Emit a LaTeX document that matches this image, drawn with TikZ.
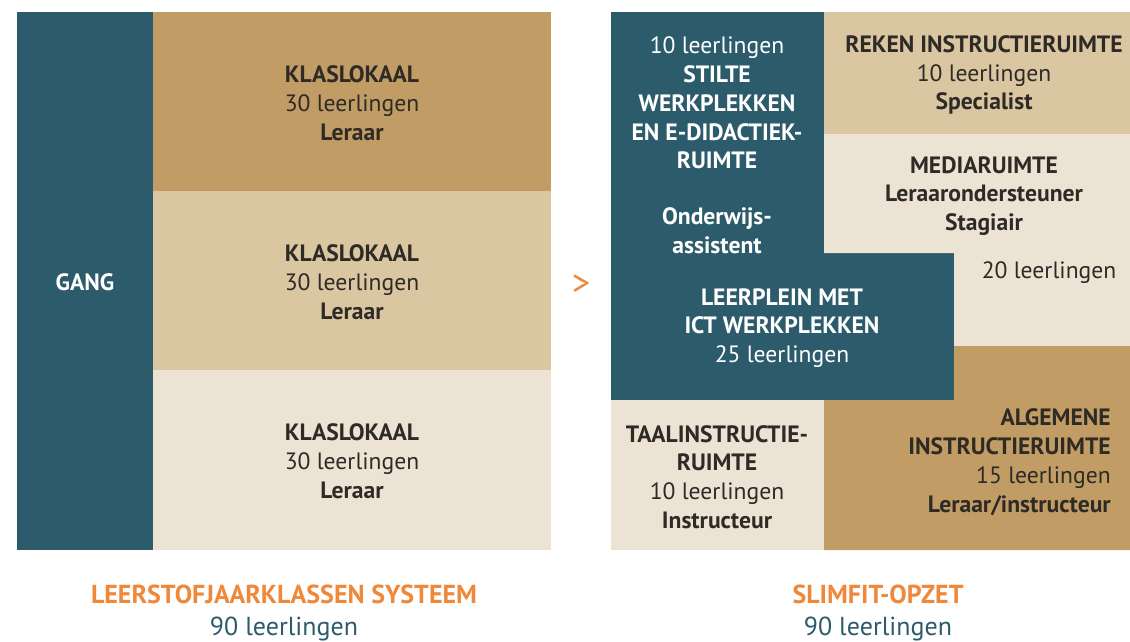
\documentclass[tikz,border=0pt]{standalone}
\usepackage{fontspec}
\setmainfont{PT Sans}
\usepackage{xcolor}
\definecolor{gangteal}{HTML}{2C5B6B}
\definecolor{tandark}{HTML}{C19D65}
\definecolor{tanmid}{HTML}{DBC6A2}
\definecolor{tanlight}{HTML}{EDE3D4}
\definecolor{accent}{HTML}{F0883A}
\definecolor{ink}{HTML}{2E2A26}
\tikzset{
	room/.style = {align=center, text=ink, inner sep=0pt,
		font=\fontsize{16.8}{20.5}\selectfont},
	roomlight/.style = {room, text=white},
	caption/.style = {align=center, inner sep=0pt,
		font=\fontsize{18.5}{23.4}\selectfont}
}

\begin{document}
\begin{tikzpicture}[x=0.025cm, y=-0.025cm]
		\useasboundingbox [fill=white] (0, 0) rectangle (1130, 641);
		% leerstofjaarklassen
		\fill [gangteal] (17, 12) rectangle (153, 550);
		\fill [tandark] (153, 12) rectangle (551, 191);
		\fill [tanmid] (153, 191) rectangle (551, 370);
		\fill [tanlight] (153, 370) rectangle (551, 550);
		\node [roomlight] (gang) at (85, 282) {\textbf{GANG}};
		\node [room] (klas1) at (352, 103) {\textbf{KLASLOKAAL}\\30 leerlingen\\\textbf{Leraar}};
		\node [room] (klas2) at (352, 282) {\textbf{KLASLOKAAL}\\30 leerlingen\\\textbf{Leraar}};
		\node [room] (klas3) at (352, 461) {\textbf{KLASLOKAAL}\\30 leerlingen\\\textbf{Leraar}};
		% slimfit
		\fill [gangteal] (611, 12) -- (824, 12) -- (824, 253) -- (954, 253) --
		(954, 400) -- (611, 400) -- cycle;
		\fill [tanmid] (824, 12) rectangle (1130, 134);
		\fill [tanlight] (824, 134) -- (1130, 134) -- (1130, 346) -- (954, 346) --
		(954, 253) -- (824, 253) -- cycle;
		\fill [tandark] (954, 346) -- (1130, 346) -- (1130, 550) -- (824, 550) --
		(824, 400) -- (954, 400) -- cycle;
		\fill [tanlight] (611, 400) rectangle (824, 550);
		\node [roomlight] (stilte) at (717, 103) {10 leerlingen\\\textbf{STILTE}\\\textbf{WERKPLEKKEN}\\\textbf{EN E-DIDACTIEK-}\\\textbf{RUIMTE}};
		\node [roomlight] (assistent) at (717, 231) {\textbf{Onderwijs-}\\\textbf{assistent}};
		\node [room] (reken) at (984, 75) {\textbf{REKEN INSTRUCTIERUIMTE}\\10 leerlingen\\\textbf{Specialist}};
		\node [room] (media) at (984, 196) {\textbf{MEDIARUIMTE}\\\textbf{Leraarondersteuner}\\\textbf{Stagiair}};
		\node [room] (media20) at (1049, 273) {20 leerlingen};
		\node [roomlight] (leerplein) at (782, 328) {\textbf{LEERPLEIN MET}\\\textbf{ICT WERKPLEKKEN}\\25 leerlingen};
		\node [room] (taal) at (717, 477) {\textbf{TAALINSTRUCTIE-}\\\textbf{RUIMTE}\\10 leerlingen\\\textbf{Instructeur}};
		\node [room, align=right, anchor=east] (algemeen) at (1111, 462) {\textbf{ALGEMENE}\\\textbf{INSTRUCTIERUIMTE}\\15 leerlingen\\\textbf{Leraar/instructeur}};
		\node [text=accent, font=\fontsize{26}{26}\selectfont, inner sep=0pt] (pijl) at (581, 285) {\textgreater};
		% onderschriften
		\node [caption] (links) at (284, 613) {\textcolor{accent}{\textbf{LEERSTOFJAARKLASSEN SYSTEEM}}\\\textcolor{gangteal}{90 leerlingen}};
		\node [caption] (rechts) at (878, 613) {\textcolor{accent}{\textbf{SLIMFIT-OPZET}}\\\textcolor{gangteal}{90 leerlingen}};
	\end{tikzpicture}
\end{document}
